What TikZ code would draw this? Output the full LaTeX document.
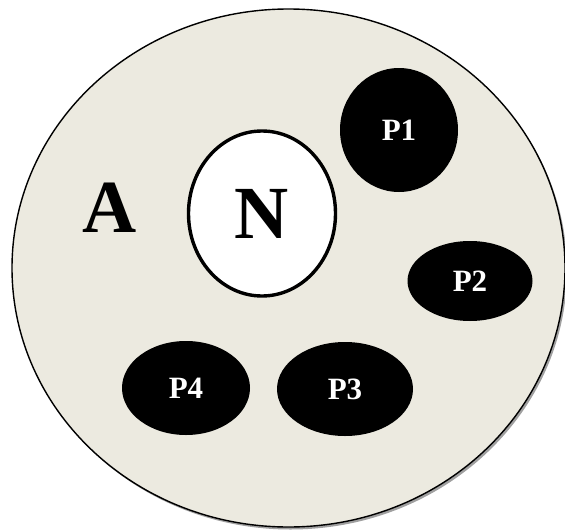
\documentclass[tikz,border=0pt]{standalone}
\usepackage{fontspec}
\setmainfont{Liberation Serif}
\usetikzlibrary{shapes.geometric}
\definecolor{cellbg}{RGB}{236,234,224}
\definecolor{shadowgray}{RGB}{160,160,160}
\tikzset{
  blob/.style={ellipse, fill=black, draw=none, inner sep=0pt, text=white, font=\bfseries\fontsize{31}{36}\selectfont},
}
\begin{document}
\begin{tikzpicture}[x=1pt,y=-1pt]
\useasboundingbox (0,0) rectangle (565,530);
% outer cell with shadow
\fill[shadowgray] (290.5,270.5) ellipse [x radius=276.5, y radius=259];
\node (cell) [ellipse, minimum width=553pt, minimum height=518pt, inner sep=0pt, fill=cellbg, draw=black, line width=1.4pt] at (288.5,268) {};
\node (A) at (110,208) {\bfseries\fontsize{75}{80}\selectfont A};
\node (N) [ellipse, minimum width=147pt, minimum height=165pt, inner sep=0pt, fill=white, draw=black, line width=3.4pt, font=\bfseries\fontsize{75}{80}\selectfont] at (262,213.5) {N};
\node (P1) [blob, minimum width=118pt, minimum height=124pt] at (399,130) {P1};
\node (P2) [blob, minimum width=125pt, minimum height=80pt] at (470,281) {P2};
\node (P3) [blob, minimum width=136pt, minimum height=94pt] at (345,389) {P3};
\node (P4) [blob, minimum width=128pt, minimum height=94pt] at (186,388) {P4};
\end{tikzpicture}
\end{document}
